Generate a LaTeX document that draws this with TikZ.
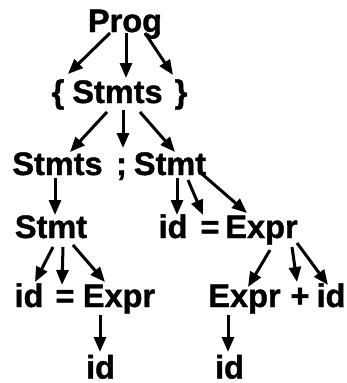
\documentclass[tikz,border=0pt]{standalone}
\usepackage{fontspec}
\newfontfamily\symfont{Liberation Sans Bold}[FakeBold=1.3]
\usetikzlibrary{arrows.meta}
\begin{document}
\begin{tikzpicture}[x=1pt,y=1pt,
  sym/.style={inner sep=0pt, anchor=base, font=\fontsize{32.5}{36}\symfont},
  edge/.style={line width=3pt, -{Triangle[length=15pt,width=12pt]}}]
\useasboundingbox (0,0) rectangle (347,-383);
% row 1
\node[sym] (prog) at (125,-32) {Prog};
% row 2
\node[sym] (lb) at (58,-103) {\{};
\node[sym] (stmts2) at (117.5,-103) {Stmts};
\node[sym] (rb) at (181,-103) {\}};
% row 3
\node[sym] (stmts3) at (57.5,-175) {Stmts};
\node[sym] (semi) at (121.5,-175) {;};
\node[sym] (stmt3) at (170,-175) {Stmt};
% row 4
\node[sym] (stmt4) at (51,-238) {Stmt};
\node[sym] (id4) at (173,-238) {id};
\node[sym] (eq4) at (210,-238) {=};
\node[sym] (expr4) at (261.5,-238) {Expr};
% row 5
\node[sym] (id5) at (29,-307) {id};
\node[sym] (eq5) at (65,-307) {=};
\node[sym] (expr5) at (119,-307) {Expr};
\node[sym] (expr5r) at (244.5,-307) {Expr};
\node[sym] (plus5) at (300,-307) {+};
\node[sym] (id5r) at (331,-307) {id};
% row 6
\node[sym] (id6) at (100.5,-378.5) {id};
\node[sym] (id6r) at (229.5,-378.5) {id};
% edges
\draw[edge] ([shift={(-15,-1)}]prog.base) -- ([shift={(10,29)}]lb.base);
\draw[edge] ([shift={(1,-1)}]prog.base) -- ([shift={(8.5,25)}]stmts2.base);
\draw[edge] ([shift={(20,-1)}]prog.base) -- ([shift={(-8,28)}]rb.base);
\draw[edge] ([shift={(-10.5,-9)}]stmts2.base) -- ([shift={(12.5,23)}]stmts3.base);
\draw[edge] ([shift={(5.5,-7)}]stmts2.base) -- ([shift={(1.5,27)}]semi.base);
\draw[edge] ([shift={(22.5,-9)}]stmts2.base) -- ([shift={(5,23)}]stmt3.base);
\draw[edge] ([shift={(-2.5,-3)}]stmts3.base) -- ([shift={(4,23)}]stmt4.base);
\draw[edge] ([shift={(7,-3)}]stmt3.base) -- ([shift={(4,23)}]id4.base);
\draw[edge] ([shift={(18,-5)}]stmt3.base) -- ([shift={(-7,23)}]eq4.base);
\draw[edge] ([shift={(32,1)}]stmt3.base) -- ([shift={(-14.5,25)}]expr4.base);
\draw[edge] ([shift={(2,-9)}]stmt4.base) -- ([shift={(6,25)}]id5.base);
\draw[edge] ([shift={(12,-9)}]stmt4.base) -- ([shift={(-3,22)}]eq5.base);
\draw[edge] ([shift={(22,-7)}]stmt4.base) -- ([shift={(-14,25)}]expr5.base);
\draw[edge] ([shift={(8.5,-12)}]expr4.base) -- ([shift={(3.5,20)}]expr5r.base);
\draw[edge] ([shift={(30.5,-9)}]expr4.base) -- ([shift={(-3,25)}]plus5.base);
\draw[edge] ([shift={(35.5,-5)}]expr4.base) -- ([shift={(-3,22)}]id5r.base);
\draw[edge] ([shift={(-19,-8)}]expr5.base) -- ([shift={(-0.5,26.5)}]id6.base);
\draw[edge] ([shift={(-16.5,-8)}]expr5r.base) -- ([shift={(-1.5,26.5)}]id6r.base);
\end{tikzpicture}
\end{document}
